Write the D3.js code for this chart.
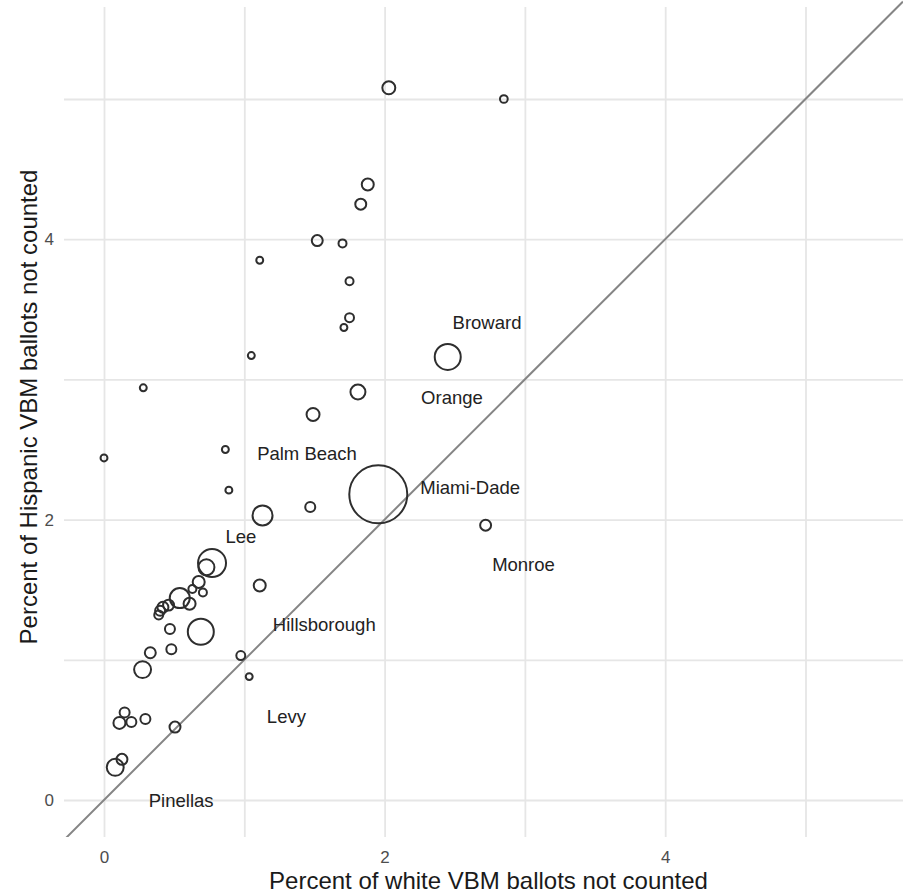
<!DOCTYPE html>
<html>
<head>
<meta charset="utf-8">
<script src="https://cdn.jsdelivr.net/npm/d3@7"></script>
<style>
  html, body { margin: 0; padding: 0; background: #fff; }
  svg { display: block; font-family: "Liberation Sans", Arial, Helvetica, sans-serif; }
</style>
</head>
<body>
<svg id="chart" width="903" height="894"></svg>
<script>
// ---- data (percent not counted) ----
const whitePct = [2.03, 2.85, 1.88, 1.83, 1.52, 1.70, 1.11, 1.75, 1.75, 1.71, 1.05, 2.45,
  0.28, 1.81, 1.49, 0.865, 0.00, 0.89, 1.955, 1.47, 1.13, 2.72,
  0.77, 0.73, 1.11, 0.675, 0.63, 0.705, 0.54, 0.61, 0.46, 0.42, 0.40, 0.39,
  0.47, 0.69, 0.48, 0.33, 0.275, 0.975, 1.035,
  0.147, 0.11, 0.195, 0.295, 0.506, 0.128, 0.08];
const hispanicPct = [5.08, 5.00, 4.39, 4.25, 3.99, 3.97, 3.85, 3.70, 3.44, 3.37, 3.17, 3.16,
  2.94, 2.91, 2.75, 2.50, 2.44, 2.21, 2.18, 2.09, 2.03, 1.96,
  1.69, 1.66, 1.53, 1.555, 1.505, 1.48, 1.44, 1.40, 1.39, 1.375, 1.35, 1.32,
  1.22, 1.20, 1.075, 1.05, 0.93, 1.03, 0.88,
  0.625, 0.55, 0.556, 0.578, 0.52, 0.29, 0.233];
// relative county size (circle area)
const countySize = [42, 15, 36, 30, 30, 16, 12, 16, 20, 12, 12, 169,
  12, 56, 42, 12, 12, 12, 841, 25, 100, 30,
  196, 64, 36, 36, 16, 16, 100, 36, 30, 30, 25, 20,
  25, 169, 25, 30, 72, 20, 12,
  25, 36, 25, 25, 30, 30, 72];

const labelNames = ["Broward", "Orange", "Palm Beach", "Miami-Dade", "Monroe", "Lee", "Hillsborough", "Levy", "Pinellas"];
const labelX = [2.73, 2.48, 1.447, 2.61, 2.99, 0.976, 1.57, 1.30, 0.55];
const labelY = [3.41, 2.87, 2.475, 2.23, 1.68, 1.878, 1.25, 0.60, 0.0];

const xTicks = [0, 2, 4];
const yTicks = [0, 2, 4];
const gridVals = [0, 1, 2, 3, 4, 5];

const xTitle = "Percent of white VBM ballots not counted";
const yTitle = "Percent of Hispanic VBM ballots not counted";

// ---- layout ----
const svg = d3.select("#chart");
const plot = { left: 64, right: 903, top: 7, bottom: 837 };

const x = d3.scaleLinear().domain([0, 4]).range([104, 665.2]);
const y = d3.scaleLinear().domain([0, 4]).range([800, 239.2]);
const r = d3.scaleSqrt().domain([0, 841]).range([0, 29]);

// grid
const gridColor = "#e6e6e6";
svg.append("g")
  .attr("transform", `translate(0,${plot.bottom})`)
  .call(d3.axisBottom(x).tickValues(gridVals).tickSize(-(plot.bottom - plot.top)).tickFormat(""))
  .call(g => g.select(".domain").remove())
  .call(g => g.selectAll("line").attr("stroke", gridColor).attr("stroke-width", 1.8));

svg.append("g")
  .attr("transform", `translate(${plot.left},0)`)
  .call(d3.axisLeft(y).tickValues(gridVals).tickSize(-(plot.right - plot.left)).tickFormat(""))
  .call(g => g.select(".domain").remove())
  .call(g => g.selectAll("line").attr("stroke", gridColor).attr("stroke-width", 1.8));

// clip
svg.append("clipPath").attr("id", "clip")
  .append("rect").attr("x", plot.left).attr("y", 0)
  .attr("width", plot.right - plot.left).attr("height", plot.bottom);

// diagonal y = x
const dLo = x.invert(plot.left), dHi = x.invert(plot.right);
svg.append("line")
  .attr("clip-path", "url(#clip)")
  .attr("x1", x(dLo)).attr("y1", y(dLo))
  .attr("x2", x(dHi)).attr("y2", y(dHi))
  .attr("stroke", "#858585").attr("stroke-width", 2);

// points
const pts = whitePct.map((w, i) => ({ w, h: hispanicPct[i], s: countySize[i] }));
svg.append("g").selectAll("circle").data(pts).join("circle")
  .attr("cx", d => x(d.w)).attr("cy", d => y(d.h)).attr("r", d => r(d.s))
  .attr("fill", "none").attr("stroke", "#2e2e2e").attr("stroke-width", 2);

// labels
svg.append("g").selectAll("text").data(labelNames).join("text")
  .attr("x", (d, i) => x(labelX[i])).attr("y", (d, i) => y(labelY[i]))
  .attr("dy", "0.36em")
  .attr("text-anchor", "middle")
  .attr("font-size", 18.5).attr("fill", "#222")
  .text(d => d);

// axes tick labels
svg.append("g")
  .attr("transform", `translate(0,${plot.bottom})`)
  .call(d3.axisBottom(x).tickValues(xTicks).tickSize(0).tickPadding(14).tickFormat(d3.format("d")))
  .call(g => g.select(".domain").remove())
  .call(g => g.selectAll("text").attr("font-size", 17).attr("fill", "#4d4d4d").attr("font-family", null));

svg.append("g")
  .attr("transform", `translate(${plot.left},0)`)
  .call(d3.axisLeft(y).tickValues(yTicks).tickSize(0).tickPadding(10).tickFormat(d3.format("d")))
  .call(g => g.select(".domain").remove())
  .call(g => g.selectAll("text").attr("font-size", 17).attr("fill", "#4d4d4d").attr("font-family", null));

// axis titles
svg.append("text")
  .attr("x", (plot.left + plot.right) / 2 + 5).attr("y", 889)
  .attr("text-anchor", "middle").attr("font-size", 24).attr("fill", "#1a1a1a")
  .text(xTitle);

svg.append("text")
  .attr("transform", `translate(37,${407}) rotate(-90)`)
  .attr("text-anchor", "middle").attr("font-size", 24).attr("fill", "#1a1a1a")
  .text(yTitle);
</script>
</body>
</html>
